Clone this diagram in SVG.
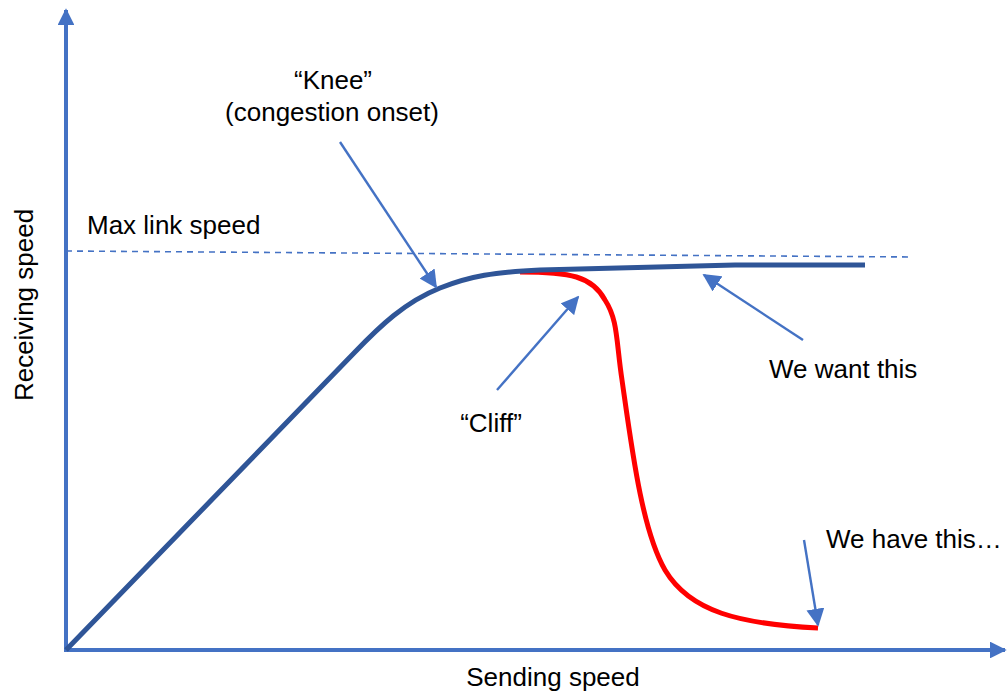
<svg xmlns="http://www.w3.org/2000/svg" width="1007" height="691" viewBox="0 0 1007 691">
  <style>
    .axis { stroke: #4472C4; stroke-width: 4; fill: none; }
    .call { stroke: #4472C4; stroke-width: 2.4; fill: none; }
    .lbl { font-family: "Liberation Sans", Arial, sans-serif; font-size: 26px; fill: #000; }
  </style>
  <defs>
    <marker id="axisHead" viewBox="0 0 10 10" refX="9" refY="5" markerWidth="4.2" markerHeight="4.2" orient="auto" markerUnits="strokeWidth">
      <path d="M0,0 L10,5 L0,10 Z" fill="#4472C4"/>
    </marker>
    <marker id="callHead" viewBox="0 0 10 10" refX="9" refY="5" markerWidth="7.5" markerHeight="7.5" orient="auto" markerUnits="strokeWidth">
      <path d="M0,0 L10,5 L0,10 Z" fill="#4472C4"/>
    </marker>
  </defs>

  <rect width="1007" height="691" fill="#fff"/>

  <!-- axes -->
  <g id="axes">
    <line class="axis" x1="66" y1="652" x2="66" y2="10" marker-end="url(#axisHead)"/>
    <line class="axis" x1="64" y1="650" x2="1005" y2="650" marker-end="url(#axisHead)"/>
  </g>

  <!-- max link speed reference -->
  <g id="max-link">
    <line x1="66" y1="251" x2="913" y2="257" stroke="#4472C4" stroke-width="1.6" stroke-dasharray="6 5"/>
  </g>

  <!-- curves -->
  <g id="curve-have">
    <path d="M520,272 C570,272 592,276 605,300 C618,320 616,340 622,380 C632,450 642,530 665,570 C690,612 740,624 818,628" fill="none" stroke="#FF0000" stroke-width="5"/>
  </g>
  <g id="curve-want">
    <path d="M66,650 L355,352 C380,326 405,302 440,288 C470,276 495,272 540,270 L735,265 L865,265" fill="none" stroke="#2F5597" stroke-width="5" stroke-linejoin="round"/>
  </g>

  <!-- callout arrows -->
  <g id="connectors">
    <line class="call" x1="340" y1="142" x2="436" y2="287" marker-end="url(#callHead)"/>
    <line class="call" x1="497" y1="390" x2="578" y2="297" marker-end="url(#callHead)"/>
    <line class="call" x1="803" y1="340" x2="704" y2="275" marker-end="url(#callHead)"/>
    <line class="call" x1="804" y1="540" x2="818" y2="625" marker-end="url(#callHead)"/>
  </g>

  <!-- labels -->
  <g id="label-knee">
    <text class="lbl" x="333" y="89" text-anchor="middle">“Knee”</text>
    <text class="lbl" x="332" y="121" text-anchor="middle">(congestion onset)</text>
  </g>
  <g id="label-max">
    <text class="lbl" x="87" y="234">Max link speed</text>
  </g>
  <g id="label-cliff">
    <text class="lbl" x="491" y="432" text-anchor="middle">“Cliff”</text>
  </g>
  <g id="label-want">
    <text class="lbl" x="769" y="378">We want this</text>
  </g>
  <g id="label-have">
    <text class="lbl" x="826" y="548">We have this…</text>
  </g>
  <g id="label-y">
    <text class="lbl" x="0" y="0" text-anchor="middle" transform="translate(33,305) rotate(-90)">Receiving speed</text>
  </g>
  <g id="label-x">
    <text class="lbl" x="553" y="686" text-anchor="middle">Sending speed</text>
  </g>
</svg>
